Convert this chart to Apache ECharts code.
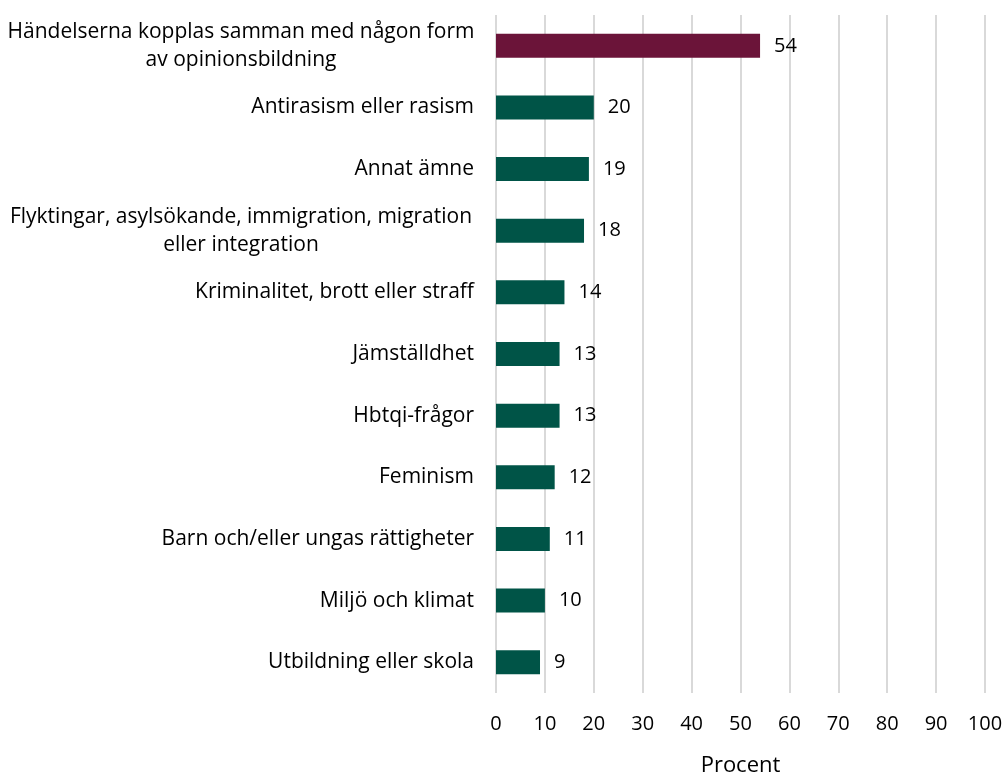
<!DOCTYPE html>
<html>
  <head>
    <meta charset="utf-8" />
    <script src="https://cdn.jsdelivr.net/npm/echarts@6/dist/echarts.min.js"></script>
  </head>
  <body style="margin:0;">
  <div id="main" style="width: 1006px;height:774px;"></div>
  <script type="text/javascript">
      // Kategorier och värden (procent)
      var categories = [
        'Händelserna kopplas samman med någon form\nav opinionsbildning',
        'Antirasism eller rasism',
        'Annat ämne',
        'Flyktingar, asylsökande, immigration, migration\neller integration',
        'Kriminalitet, brott eller straff',
        'Jämställdhet',
        'Hbtqi-frågor',
        'Feminism',
        'Barn och/eller ungas rättigheter',
        'Miljö och klimat',
        'Utbildning eller skola'
      ];
      var values = [54, 20, 19, 18, 14, 13, 13, 12, 11, 10, 9];
      var xTicks = [0, 10, 20, 30, 40, 50, 60, 70, 80, 90, 100];

      var font = '"Open Sans", sans-serif';
      var myChart = echarts.init(document.getElementById('main'));

      var option = {
        animation: false,
        grid: { left: 496, right: 21, top: 15, bottom: 81, outerBoundsMode: 'none' },
        xAxis: {
          type: 'value',
          min: xTicks[0],
          max: xTicks[xTicks.length - 1],
          interval: 10,
          name: 'Procent',
          nameLocation: 'middle',
          nameGap: 62,
          nameTextStyle: { fontSize: 22, color: '#000', fontFamily: font },
          axisLine: { show: false },
          axisTick: { show: false },
          axisLabel: { fontSize: 20, color: '#000', fontFamily: font, margin: 21 },
          splitLine: { lineStyle: { color: '#d9d9d9', width: 2 } }
        },
        yAxis: {
          type: 'category',
          inverse: true,
          data: categories,
          axisLine: { show: false },
          axisTick: { show: false },
          axisLabel: {
            margin: 22,
            fontSize: 21,
            color: '#000',
            fontFamily: font,
            formatter: function (v) {
              return v.indexOf('\n') >= 0 ? '{c|' + v + '}' : v;
            },
            rich: {
              c: { width: 466, align: 'center', fontSize: 21, color: '#000', fontFamily: font, lineHeight: 28 }
            }
          }
        },
        series: [
          {
            type: 'bar',
            barWidth: 24,
            data: values.map(function (v, i) {
              return { value: v, itemStyle: { color: i === 0 ? '#6b1439' : '#005447' } };
            }),
            label: {
              show: true,
              position: 'right',
              distance: 14,
              fontSize: 20,
              color: '#000',
              fontFamily: font
            }
          }
        ]
      };

      myChart.setOption(option);
  </script>
</body>
</html>
